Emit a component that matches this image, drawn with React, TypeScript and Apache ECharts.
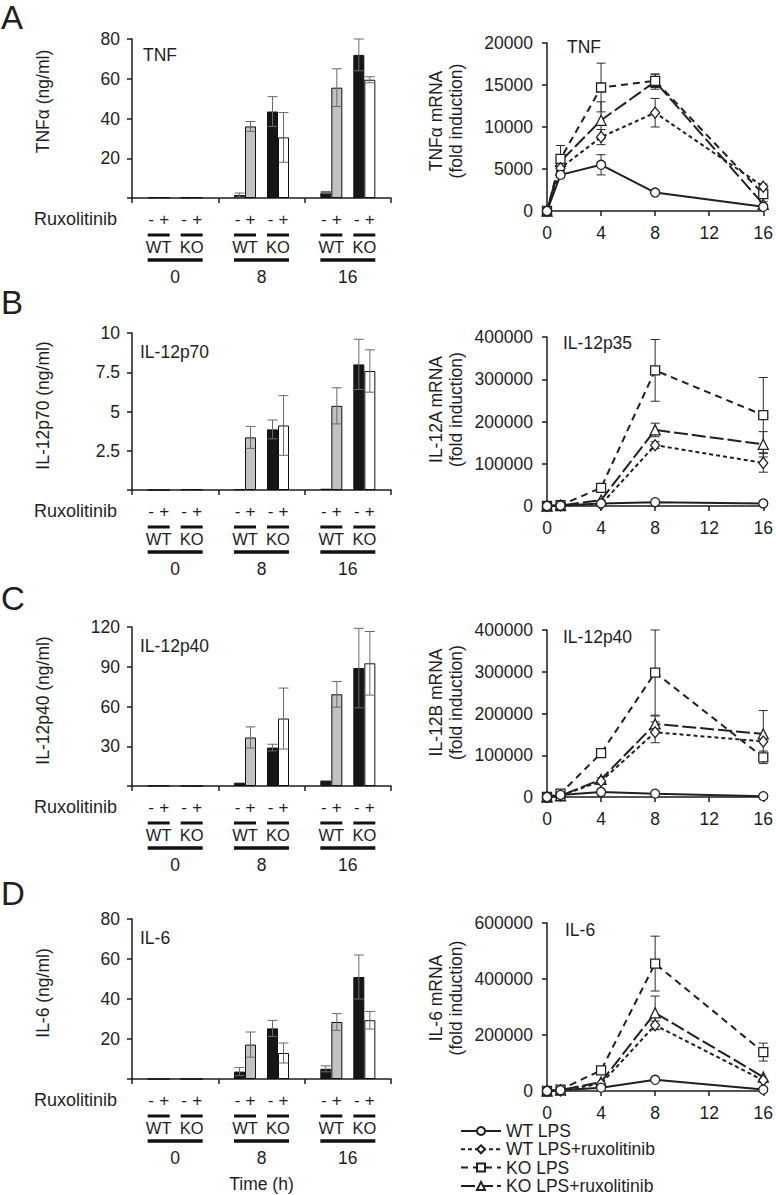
import React, { useEffect, useRef } from 'react';
import * as echarts from 'echarts';

const FONT = '"Liberation Sans", Arial, Helvetica, sans-serif';
const INK = '#1e1e1e';
const FS = 17.5;

// ---------- categories / labels ----------
const timeGroups = ['0', '8', '16'];
const rxSigns = ['-', '+', '-', '+'];
const genotypes = ['WT', 'KO'];
const hours = [0, 1, 4, 8, 16];
const lineNames = ['WT LPS', 'WT LPS+ruxolitinib', 'KO LPS', 'KO LPS+ruxolitinib'];

// ---------- protein (ng/ml), per time group 0h / 8h / 16h ----------
const tnfWTm = [0.3, 1.5, 2.8];
const tnfWTp = [0.3, 36, 55.5];
const tnfKOm = [0.2, 43.5, 72];
const tnfKOp = [0.3, 30.5, 59.5];
const tnfWTmErr = [0, 1.0, 0.5];
const tnfWTpErr = [0, 2.5, 9.5];
const tnfKOmErr = [0, 7.5, 8];
const tnfKOpErr = [0, 12.5, 1.5];

const p70WTm = [0, 0.05, 0.08];
const p70WTp = [0, 3.35, 5.36];
const p70KOm = [0.04, 3.86, 8.0];
const p70KOp = [0.04, 4.11, 7.58];
const p70WTmErr = [0, 0, 0];
const p70WTpErr = [0, 0.7, 1.15];
const p70KOmErr = [0, 0.6, 1.6];
const p70KOpErr = [0, 1.9, 1.35];

const p40WTm = [0.3, 2.5, 4.1];
const p40WTp = [0.3, 36.6, 69.2];
const p40KOm = [0, 29, 89];
const p40KOp = [0, 50.9, 92.6];
const p40WTmErr = [0, 0, 0];
const p40WTpErr = [0, 8, 9.7];
const p40KOmErr = [0, 2.5, 30];
const p40KOpErr = [0, 23, 24];

const il6WTm = [0, 3.7, 5.1];
const il6WTp = [0, 17.2, 28.5];
const il6KOm = [0, 25.3, 51];
const il6KOp = [0, 13, 29.4];
const il6WTmErr = [0, 2, 1.5];
const il6WTpErr = [0, 6.3, 4.2];
const il6KOmErr = [0, 4, 11];
const il6KOpErr = [0, 5, 4.4];

// ---------- mRNA (fold induction), at hours 0,1,4,8,16 ----------
const tnfMWT = [0, 4300, 5500, 2200, 500];
const tnfMWTr = [0, 5100, 8800, 11700, 2900];
const tnfMKO = [0, 6200, 14700, 15500, 2000];
const tnfMKOr = [0, 5900, 10800, 15400, 800];
const tnfMWTErr = [0, 300, 1200, 150, 100];
const tnfMWTrErr = [0, 300, 900, 1700, 300];
const tnfMKOErr = [0, 1600, 2900, 800, 400];
const tnfMKOrErr = [0, 500, 2200, 900, 300];

const p35WT = [0, 1000, 6000, 9000, 6000];
const p35WTr = [0, 1000, 4000, 144000, 102000];
const p35KO = [0, 2000, 43000, 321000, 215000];
const p35KOr = [0, 1000, 14000, 180000, 146000];
const p35WTErr = [0, 0, 0, 0, 0];
const p35WTrErr = [0, 0, 0, 8000, 22000];
const p35KOErr = [0, 0, 5000, 73000, 89000];
const p35KOrErr = [0, 0, 0, 16000, 30000];

const p40mWT = [0, 5000, 12000, 8000, 2000];
const p40mWTr = [0, 3000, 38000, 155000, 133000];
const p40mKO = [0, 8000, 105000, 298000, 95000];
const p40mKOr = [0, 3000, 42000, 175000, 151000];
const p40mWTErr = [0, 0, 0, 0, 0];
const p40mWTrErr = [0, 0, 0, 25000, 0];
const p40mKOErr = [0, 0, 0, 102000, 15000];
const p40mKOrErr = [0, 0, 4000, 19000, 56000];

const il6mWT = [0, 3000, 12000, 40000, 5000];
const il6mWTr = [0, 2000, 26000, 235000, 38000];
const il6mKO = [0, 5000, 74000, 455000, 139000];
const il6mKOr = [0, 3000, 32000, 279000, 50000];
const il6mWTErr = [0, 0, 0, 0, 0];
const il6mWTrErr = [0, 0, 0, 15000, 0];
const il6mKOErr = [0, 0, 0, 98000, 32000];
const il6mKOrErr = [0, 0, 0, 60000, 0];

// ---------- panel layout ----------
const protPanels = [
  { letter: 'A', letterTop: 1, title: 'TNF', titleLeft: 143, titleTop: 46, yName: 'TNFα (ng/ml)', max: 80, interval: 20, top: 39, height: 159, pad: 34,
    vals: [tnfWTm, tnfWTp, tnfKOm, tnfKOp], errs: [tnfWTmErr, tnfWTpErr, tnfKOmErr, tnfKOpErr] },
  { letter: 'B', letterTop: 286, title: 'IL-12p70', titleLeft: 140, titleTop: 343, yName: 'IL-12p70 (ng/ml)', max: 10, interval: 2.5, top: 333, height: 157, pad: 12,
    vals: [p70WTm, p70WTp, p70KOm, p70KOp], errs: [p70WTmErr, p70WTpErr, p70KOmErr, p70KOpErr] },
  { letter: 'C', letterTop: 582, title: 'IL-12p40', titleLeft: 140, titleTop: 637, yName: 'IL-12p40 (ng/ml)', max: 120, interval: 30, top: 627, height: 159, pad: 12,
    vals: [p40WTm, p40WTp, p40KOm, p40KOp], errs: [p40WTmErr, p40WTpErr, p40KOmErr, p40KOpErr] },
  { letter: 'D', letterTop: 877, title: 'IL-6', titleLeft: 140, titleTop: 929, yName: 'IL-6 (ng/ml)', max: 80, interval: 20, top: 919, height: 160, pad: 12,
    vals: [il6WTm, il6WTp, il6KOm, il6KOp], errs: [il6WTmErr, il6WTpErr, il6KOmErr, il6KOpErr] },
];

const mrnaPanels = [
  { title: 'TNF', titleLeft: 567, titleTop: 38, yName: 'TNFα mRNA\n(fold induction)', max: 20000, interval: 5000, top: 43, height: 168, pad: 12,
    vals: [tnfMWT, tnfMWTr, tnfMKO, tnfMKOr], errs: [tnfMWTErr, tnfMWTrErr, tnfMKOErr, tnfMKOrErr] },
  { title: 'IL-12p35', titleLeft: 563, titleTop: 334, yName: 'IL-12A mRNA\n(fold induction)', max: 400000, interval: 100000, top: 337, height: 169, pad: 24,
    vals: [p35WT, p35WTr, p35KO, p35KOr], errs: [p35WTErr, p35WTrErr, p35KOErr, p35KOrErr] },
  { title: 'IL-12p40', titleLeft: 563, titleTop: 628, yName: 'IL-12B mRNA\n(fold induction)', max: 400000, interval: 100000, top: 630, height: 167, pad: 22,
    vals: [p40mWT, p40mWTr, p40mKO, p40mKOr], errs: [p40mWTErr, p40mWTrErr, p40mKOErr, p40mKOrErr] },
  { title: 'IL-6', titleLeft: 565, titleTop: 921, yName: 'IL-6 mRNA\n(fold induction)', max: 600000, interval: 200000, top: 923, height: 168, pad: 18,
    vals: [il6mWT, il6mWTr, il6mKO, il6mKOr], errs: [il6mWTErr, il6mWTrErr, il6mKOErr, il6mKOrErr] },
];

const LEFT_X = 132, LEFT_W = 259;
const RIGHT_X = 547, RIGHT_W = 217;
const BAR_W = 11;
const barFills = ['#161616', '#c2c2c2', '#161616', '#ffffff'];
const barSlots = [0, 1, 3, 4]; // slot 2 is the gap between WT and KO pairs
const lineDash: any[] = ['solid', [4, 3], [7, 5], [14, 4]];
const lineSymbol = ['circle', 'diamond', 'rect', 'triangle'];
const lineSymSize: any[] = [9, [9, 11], 9, 10];

function errRender(offset: number, color: string, cap: number) {
  return (_params: any, api: any) => {
    const e = api.value(2);
    if (!e) return { type: 'group', children: [] };
    const x = api.value(0);
    const y = api.value(1);
    const hi = api.coord([x, y + e]);
    const lo = api.coord([x, Math.max(y - e, 0)]);
    const cx = hi[0] + offset;
    const st = { stroke: color, lineWidth: 1 };
    return {
      type: 'group',
      children: [
        { type: 'line', shape: { x1: cx, y1: hi[1], x2: cx, y2: lo[1] }, style: st },
        { type: 'line', shape: { x1: cx - cap, y1: hi[1], x2: cx + cap, y2: hi[1] }, style: st },
        { type: 'line', shape: { x1: cx - cap, y1: lo[1], x2: cx + cap, y2: lo[1] }, style: st },
      ],
    };
  };
}

const axisLine = { show: true, lineStyle: { color: INK, width: 1.5 } };
const axisTick = { show: true, length: 5, inside: false, lineStyle: { color: INK, width: 1.5 } };
const lbl = { fontSize: FS, color: INK, fontFamily: FONT };

function buildOption() {
  const grid: any[] = [];
  const xAxis: any[] = [];
  const yAxis: any[] = [];
  const series: any[] = [];
  const title: any[] = [];

  protPanels.forEach((p, i) => {
    grid.push({ left: LEFT_X, width: LEFT_W, top: p.top, height: p.height });
    xAxis.push({
      gridIndex: i, type: 'category', data: timeGroups,
      axisLine, axisTick, splitLine: { show: false },
      axisLabel: { ...lbl, margin: 70 },
      ...(i === 3 ? { name: 'Time (h)', nameLocation: 'middle', nameGap: 96, nameTextStyle: { ...lbl } } : {}),
    });
    yAxis.push({
      gridIndex: i, type: 'value', min: 0, max: p.max, interval: p.interval,
      axisLine, axisTick, splitLine: { show: false },
      axisLabel: { ...lbl, margin: 12, formatter: (v: number) => (v === 0 ? '' : String(v)) },
      name: p.yName, nameLocation: 'middle', nameRotate: 90, nameGap: 79,
      nameTextStyle: { ...lbl, lineHeight: 20, padding: [0, 0, 0, p.pad] },
    });
    title.push({ text: p.letter, left: 1, top: p.letterTop, padding: 0, textStyle: { fontSize: 33, fontWeight: 'normal', color: INK, fontFamily: FONT } });
    title.push({ text: p.title, left: p.titleLeft, top: p.titleTop, padding: 0, textStyle: { ...lbl, fontWeight: 'normal' } });

    const slotSeries: any[] = [null, null, null, null, null];
    p.vals.forEach((vals, k) => {
      slotSeries[barSlots[k]] = {
        type: 'bar', xAxisIndex: i, yAxisIndex: i, data: vals, barWidth: BAR_W, barGap: '0%',
        itemStyle: { color: barFills[k], borderColor: '#111', borderWidth: 1 }, z: 2, silent: true,
      };
    });
    slotSeries[2] = { type: 'bar', xAxisIndex: i, yAxisIndex: i, data: [null, null, null], barWidth: BAR_W, barGap: '0%', silent: true };
    slotSeries.forEach((s) => series.push(s));

    p.vals.forEach((vals, k) => {
      series.push({
        type: 'custom', xAxisIndex: i, yAxisIndex: i, z: 4, silent: true,
        renderItem: errRender((barSlots[k] - 2) * BAR_W, '#6a6a6a', 5),
        encode: { x: 0, y: 1 },
        data: vals.map((v, c) => [c, v, p.errs[k][c]]),
      });
    });
  });

  mrnaPanels.forEach((p, j) => {
    const i = 4 + j;
    grid.push({ left: RIGHT_X, width: RIGHT_W, top: p.top, height: p.height });
    xAxis.push({
      gridIndex: i, type: 'value', min: 0, max: 16, interval: 4,
      axisLine, axisTick, splitLine: { show: false },
      axisLabel: { ...lbl, margin: 13 },
    });
    yAxis.push({
      gridIndex: i, type: 'value', min: 0, max: p.max, interval: p.interval,
      axisLine, axisTick, splitLine: { show: false },
      axisLabel: { ...lbl, margin: 14, formatter: (v: number) => String(v) },
      name: p.yName, nameLocation: 'middle', nameRotate: 90, nameGap: 81,
      nameTextStyle: { ...lbl, lineHeight: 20, padding: [0, 0, 0, p.pad] },
    });
    title.push({ text: p.title, left: p.titleLeft, top: p.titleTop, padding: 0, textStyle: { ...lbl, fontWeight: 'normal' } });

    p.vals.forEach((vals, k) => {
      series.push({
        type: 'custom', xAxisIndex: i, yAxisIndex: i, z: 2, silent: true,
        renderItem: errRender(0, '#2a2a2a', 4.5),
        encode: { x: 0, y: 1 },
        data: vals.map((v, c) => [hours[c], v, p.errs[k][c]]),
      });
    });
    [3, 2, 1, 0].forEach((k) => {
      series.push({
        type: 'line', name: lineNames[k], xAxisIndex: i, yAxisIndex: i,
        data: p.vals[k].map((v, c) => [hours[c], v]),
        symbol: lineSymbol[k], symbolSize: lineSymSize[k], showAllSymbol: true,
        lineStyle: { color: '#202020', width: 2, type: lineDash[k] },
        itemStyle: { color: '#ffffff', borderColor: '#202020', borderWidth: 1.3 },
        z: 3, silent: true,
      });
    });
  });

  return {
    animation: false,
    backgroundColor: '#ffffff',
    textStyle: { fontFamily: FONT, color: INK },
    title, grid, xAxis, yAxis, series,
    legend: {
      data: lineNames, orient: 'vertical', left: 460, top: 1122, itemWidth: 40, itemHeight: 10, itemGap: 0.3,
      selectedMode: false, padding: 0,
      textStyle: { ...lbl, lineHeight: 17 },
    },
  };
}

function buildGraphic(chart: any) {
  const els: any[] = [];
  const txt = (text: string, x: number, y: number, size: number, align = 'center') => ({
    type: 'text', silent: true,
    style: { text, x, y, fill: INK, fontSize: size, fontFamily: FONT, textAlign: align, textVerticalAlign: 'middle' },
  });
  const bar = (x1: number, x2: number, y: number, h: number) => ({
    type: 'rect', silent: true, shape: { x: x1, y: y - h / 2, width: x2 - x1, height: h }, style: { fill: '#111' },
  });
  protPanels.forEach((_p, i) => {
    const yBase = chart.convertToPixel({ yAxisIndex: i }, 0);
    els.push(txt('Ruxolitinib', 117, yBase + 21, 18, 'right'));
    timeGroups.forEach((_t, c) => {
      const cx = chart.convertToPixel({ xAxisIndex: i }, c);
      const centers = barSlots.map((s) => cx + (s - 2) * BAR_W);
      centers.forEach((bx, k) => els.push(txt(rxSigns[k], bx - (rxSigns[k] === '-' ? 2 : 0), yBase + 21, 17)));
      genotypes.forEach((g, gi) => {
        const a = centers[gi * 2] - BAR_W / 2;
        const b = centers[gi * 2 + 1] + BAR_W / 2;
        els.push(bar(a, b, yBase + 37, 3));
        els.push(txt(g, (a + b) / 2, yBase + 49, 16.5));
      });
      els.push(bar(centers[0] - BAR_W / 2, centers[3] + BAR_W / 2, yBase + 62, 3.5));
    });
  });
  return els;
}

export default function App() {
  const ref = useRef<HTMLDivElement>(null);
  useEffect(() => {
    const chart = echarts.init(ref.current as HTMLDivElement, null, { renderer: 'svg' });
    chart.setOption(buildOption() as any);
    chart.setOption({ graphic: buildGraphic(chart) } as any);
    return () => chart.dispose();
  }, []);
  return (
    <div
      ref={ref}
      style={{ position: 'absolute', left: 0, top: 0, width: 776, height: 1195, background: '#fff' }}
    />
  );
}
